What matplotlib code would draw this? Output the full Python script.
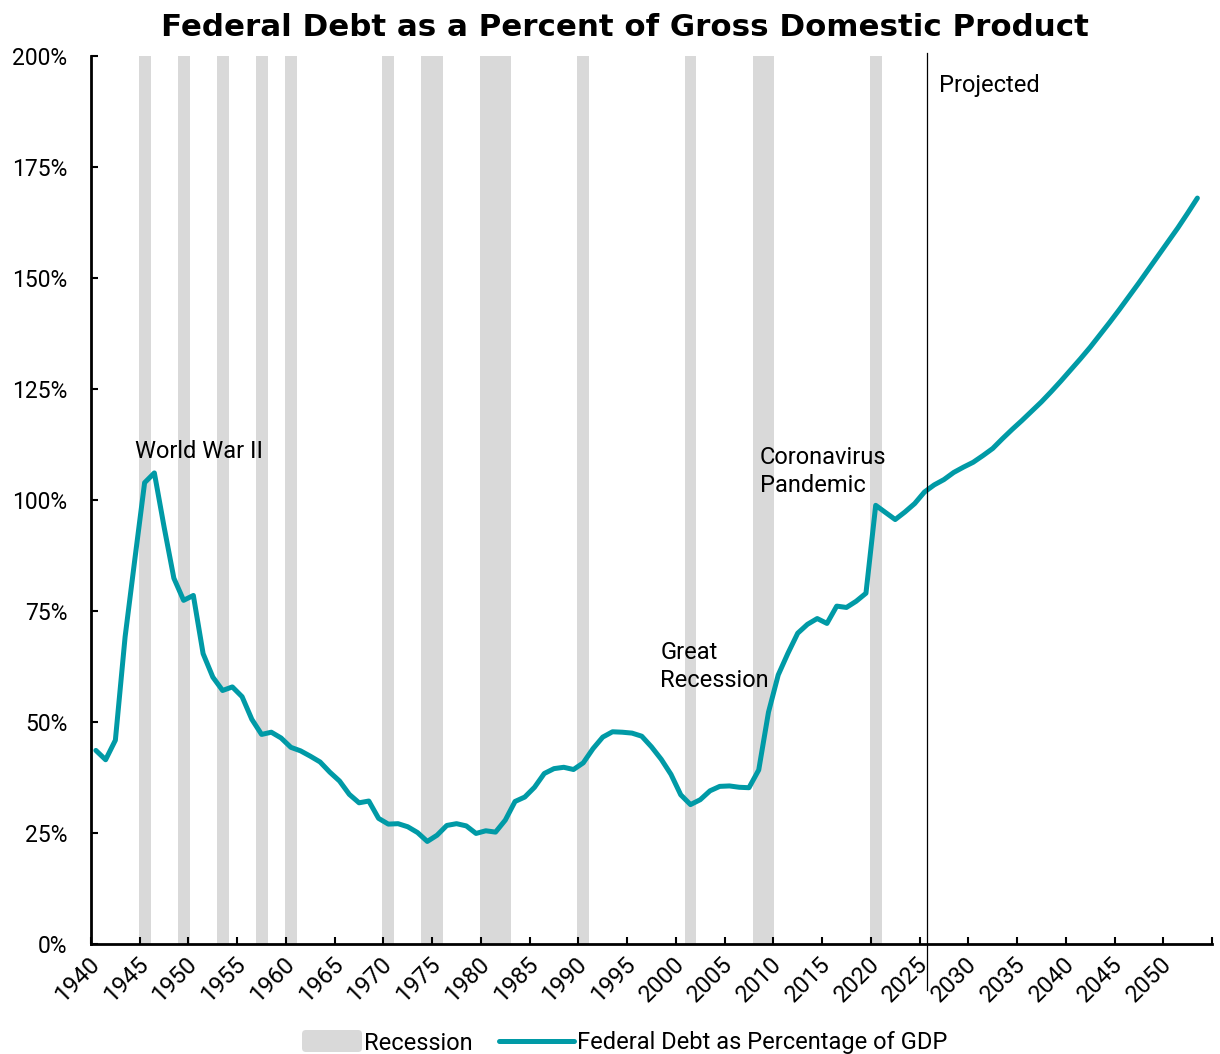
import matplotlib
matplotlib.use("Agg")
import matplotlib.pyplot as plt
from matplotlib.patches import FancyBboxPatch
from matplotlib.lines import Line2D
import numpy as np

plt.rcParams['font.family'] = ['Roboto', 'DejaVu Sans']

# Debt held by the public, % of GDP (actuals through 2024, projections after)
years = list(range(1940, 2054))
debt_pct = [
    43.6, 41.5, 45.9, 69.2, 86.7, 103.9, 106.1, 93.9, 82.4, 77.4,   # 1940s
    78.5, 65.4, 60.1, 57.1, 57.9, 55.7, 50.6, 47.2, 47.7, 46.4,     # 1950s
    44.3, 43.5, 42.3, 41.0, 38.7, 36.7, 33.7, 31.8, 32.2, 28.3,     # 1960s
    27.0, 27.1, 26.4, 25.1, 23.1, 24.5, 26.7, 27.1, 26.6, 24.9,     # 1970s
    25.5, 25.2, 27.9, 32.1, 33.1, 35.3, 38.4, 39.5, 39.8, 39.3,     # 1980s
    40.8, 44.0, 46.6, 47.8, 47.7, 47.5, 46.8, 44.4, 41.6, 38.2,     # 1990s
    33.6, 31.4, 32.5, 34.5, 35.5, 35.6, 35.3, 35.2, 39.2, 52.2,     # 2000s
    60.6, 65.5, 70.0, 72.0, 73.3, 72.2, 76.1, 75.8, 77.2, 79.0,     # 2010s
    98.8, 97.2, 95.6, 97.3, 99.2,                                   # 2020-2024
    101.8, 103.4, 104.6, 106.2, 107.4, 108.5, 110.0, 111.6, 113.8, 115.9,
    117.9, 120.0, 122.1, 124.4, 126.8, 129.3, 131.8, 134.4, 137.2, 140.0,
    142.9, 145.9, 148.9, 152.0, 155.1, 158.2, 161.3, 164.6, 168.0,
]

# years that fall in an NBER recession
recession_years = [1945, 1949, 1953, 1957, 1960, 1970, 1974, 1975,
                   1980, 1981, 1982, 1990, 2001, 2008, 2009, 2020]

tick_years = list(range(1940, 2051, 5))
y_ticks = list(range(0, 201, 25))
PROJECTION_START = 2025.25

# event labels: (x, first baseline, lines)
events = [
    (1944.0, 109.5, ["World War II"]),
    (1997.9, 64.3, ["Great", "Recession"]),
    (2008.1, 108.1, ["Coronavirus", "Pandemic"]),
]

LINE_COLOR = '#009AA6'
BAR_COLOR = '#D9D9D9'

fig = plt.figure(figsize=(12.2, 10.54), dpi=100)
ax = fig.add_axes([91 / 1220, 110 / 1054, 1121 / 1220, 888 / 1054])

ax.bar(recession_years, [200] * len(recession_years), width=1.22,
       color=BAR_COLOR, linewidth=0, zorder=1)
ax.plot(years, debt_pct, color=LINE_COLOR, lw=3.6,
        solid_capstyle='round', solid_joinstyle='round', zorder=3)

# projection divider runs a bit past the axes
ax.plot([PROJECTION_START, PROJECTION_START], [-10.4, 200.6], color='black',
        lw=0.9, clip_on=False, zorder=4)
ax.text(2026.5, 192.0, "Projected", fontsize=17, va='baseline', ha='left')

for x, y0, lines in events:
    for i, line in enumerate(lines):
        ax.text(x, y0 - i * 6.35, line, fontsize=17, va='baseline', ha='left')

ax.set_xlim(1939.5, 2054.5)
ax.set_ylim(0, 200)

for side in ['top', 'right']:
    ax.spines[side].set_visible(False)
for side in ['left', 'bottom']:
    ax.spines[side].set_linewidth(2)

# tick marks sit between categories, labels on the category
ax.set_xticks(np.arange(1939.5, 2055, 5))
ax.set_xticklabels([])
ax.set_xticks(tick_years, minor=True)
ax.set_xticklabels([str(y) for y in tick_years], minor=True, rotation=45,
                   ha='right', va='center', rotation_mode='anchor')
ax.tick_params(axis='x', which='major', direction='in', length=5, width=1.5)
ax.tick_params(axis='x', which='minor', length=0, pad=12, labelsize=17)

ax.set_yticks(y_ticks)
ax.set_yticklabels([f"{v}%" for v in y_ticks])
ax.tick_params(axis='y', direction='in', length=5, width=1.5, pad=17,
               labelsize=16.5)

fig.text(625 / 1220, 1 - 36 / 1054,
         "Federal Debt as a Percent of Gross Domestic Product",
         ha='center', va='baseline', fontsize=22.2, fontweight='bold',
         family=['DejaVu Sans'])

# legend drawn by hand in inches from the lower left corner
tr = fig.dpi_scale_trans
fig.patches.append(FancyBboxPatch((3.02, 0.02), 0.60, 0.22,
                                  boxstyle="round,pad=0,rounding_size=0.04",
                                  transform=tr, facecolor=BAR_COLOR,
                                  edgecolor='none', figure=fig))
fig.text(3.635, 0.045, "Recession", transform=tr, fontsize=17,
         va='baseline', ha='left')
fig.lines.append(Line2D([4.99, 5.74], [0.13, 0.13], transform=tr,
                        color=LINE_COLOR, lw=3.6, solid_capstyle='round',
                        figure=fig))
fig.text(5.77, 0.045, "Federal Debt as Percentage of GDP", transform=tr,
         fontsize=17, va='baseline', ha='left')

fig.savefig("out.png", dpi=100)
